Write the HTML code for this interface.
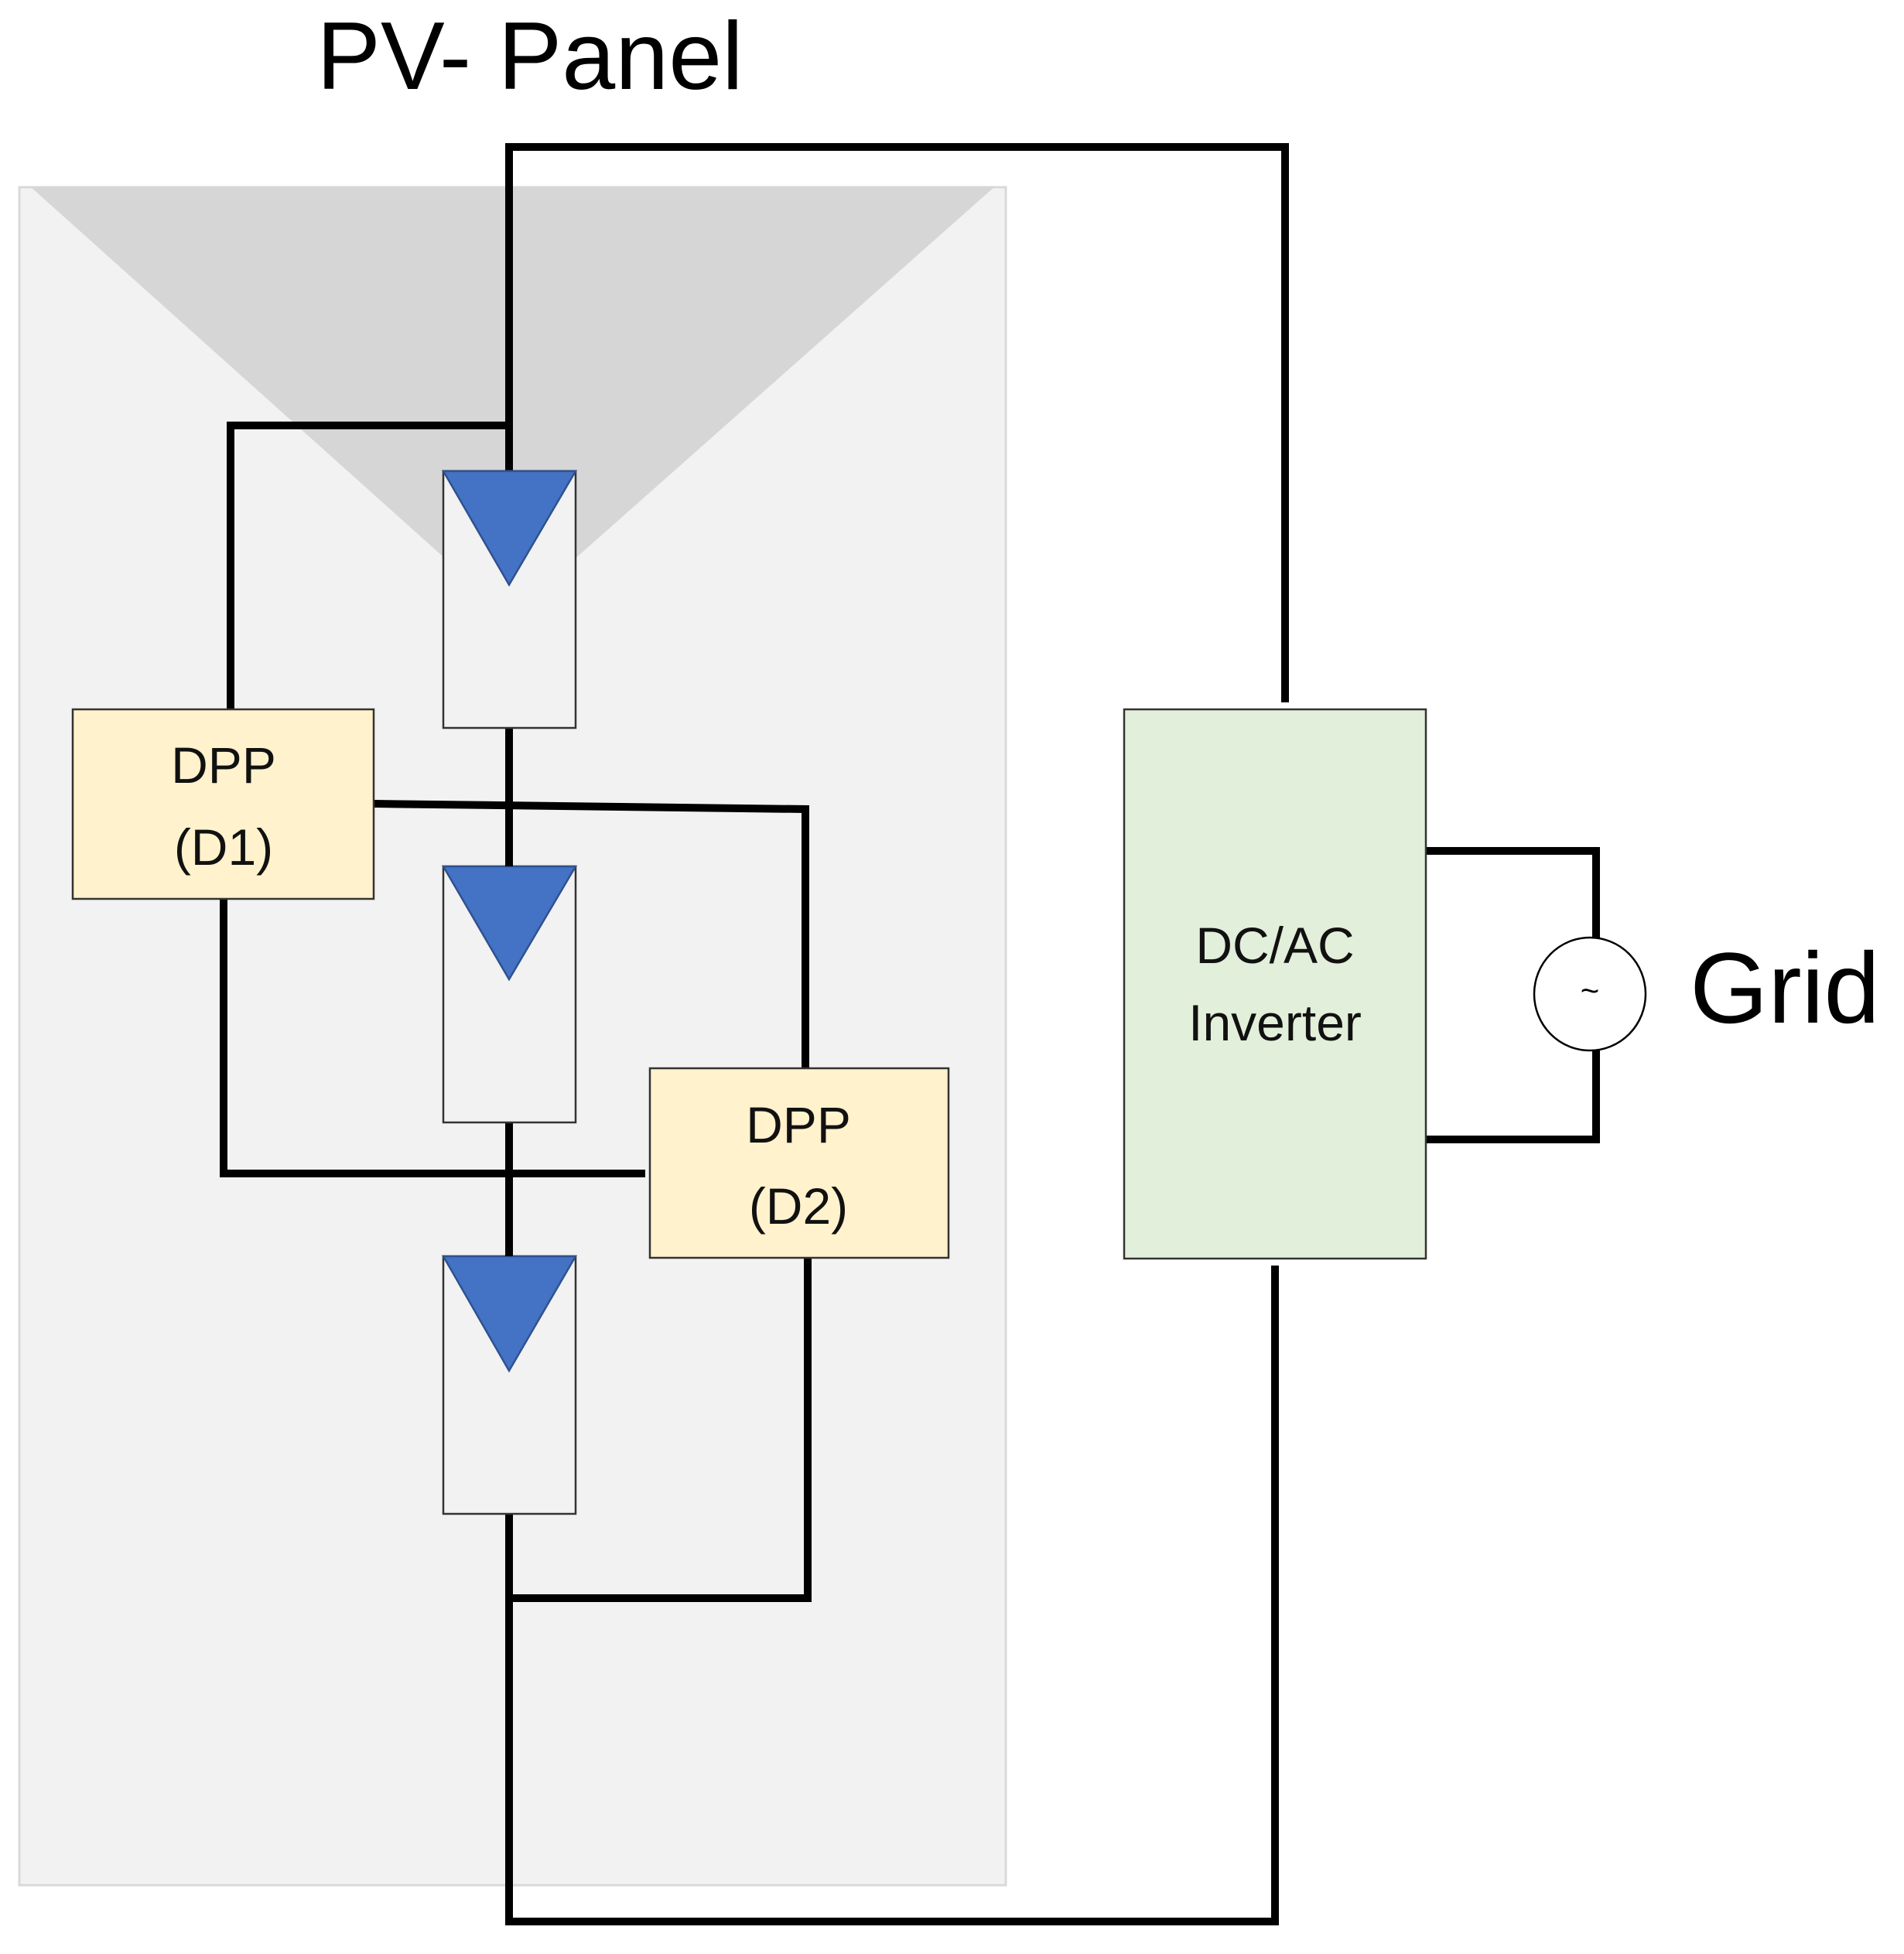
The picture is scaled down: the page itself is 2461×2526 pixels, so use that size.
<!DOCTYPE html>
<html><head><meta charset="utf-8"><style>html,body{margin:0;padding:0;background:#fff}svg{display:block}</style></head><body>
<svg width="2461" height="2526" viewBox="0 0 2461 2526" xmlns="http://www.w3.org/2000/svg">
<rect x="25" y="242" width="1275" height="2195" fill="#f2f2f2" stroke="#d9d9d9" stroke-width="3"/>
<polygon points="40,242 1285,242 659,797" fill="#d6d6d6"/>
<g fill="none" stroke="#000" stroke-width="10" stroke-linecap="square">
<polyline points="658,609 658,190 1661,190 1661,903"/>
<polyline points="298,914 298,550 658,550"/>
<line x1="658" y1="941" x2="658" y2="1120"/>
<line x1="658" y1="1451" x2="658" y2="1624"/>
<polyline points="658,1957 658,2484 1648,2484 1648,1641"/>
<polyline points="483,1039 1041,1046 1041,1381"/>
<polyline points="289,1162 289,1517 829,1517"/>
<polyline points="1044,1631 1044,2066 658,2066"/>
<polyline points="1848,1100 2063,1100 2063,1212"/>
<polyline points="2063,1358 2063,1473 1837,1473"/>
</g>
<g stroke="#333" stroke-width="2.5">
<rect x="573" y="609" width="171" height="332" fill="#f2f2f2"/>
<rect x="573" y="1120" width="171" height="331" fill="#f2f2f2"/>
<rect x="573" y="1624" width="171" height="333" fill="#f2f2f2"/>
<polygon points="573,609 744,609 658,756" fill="#4472c4" stroke="#2f528f"/>
<polygon points="573,1120 744,1120 658,1266" fill="#4472c4" stroke="#2f528f"/>
<polygon points="573,1624 744,1624 658,1772" fill="#4472c4" stroke="#2f528f"/>
<rect x="94" y="917" width="389" height="245" fill="#fff2cc"/>
<rect x="840" y="1381" width="386" height="245" fill="#fff2cc"/>
<rect x="1453" y="917" width="390" height="710" fill="#e2efda"/>
<ellipse cx="2055" cy="1285" rx="72" ry="73" fill="#fff" stroke="#000"/>
</g>
<line x1="658" y1="1035" x2="658" y2="1120" stroke="#000" stroke-width="10"/>
<line x1="658" y1="1510" x2="658" y2="1624" stroke="#000" stroke-width="10"/>
<g font-family="Liberation Sans, sans-serif" fill="#000" text-anchor="middle">
<text x="685" y="115" font-size="124">PV- Panel</text>
<text x="2307" y="1322" font-size="130">Grid</text>
<g font-size="66" fill="#111">
<text x="289" y="1012">DPP</text>
<text x="289" y="1118">(D1)</text>
<text x="1032" y="1477">DPP</text>
<text x="1032" y="1582">(D2)</text>
<text x="1648" y="1245">DC/AC</text>
<text x="1648" y="1345">Inverter</text>
</g>
<text x="2055" y="1295" font-size="42">~</text>
</g>
</svg>
</body></html>
